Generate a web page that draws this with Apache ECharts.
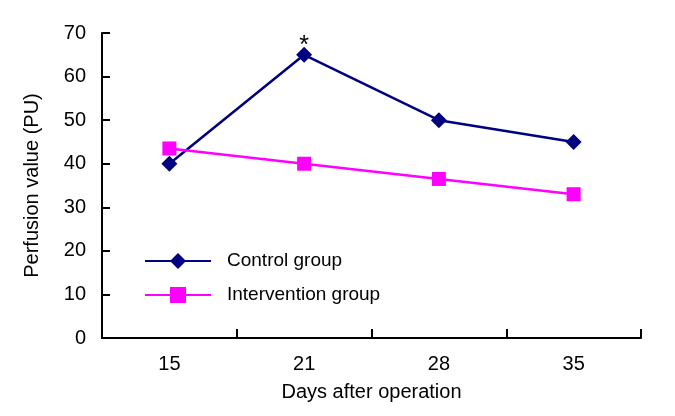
<!DOCTYPE html>
<html>
<head>
<meta charset="utf-8">
<script src="https://cdn.jsdelivr.net/npm/echarts@6/dist/echarts.min.js"></script>
<style>html,body{margin:0;padding:0;background:#fff;}#c{width:675px;height:416px;}</style>
</head>
<body>
<div id="c"></div>
<script>
var categories = ['15', '21', '28', '35'];
var controlValues = [40, 65, 50, 45];
var interventionValues = [43.5, 40, 36.5, 33];
var yTicks = [0, 10, 20, 30, 40, 50, 60, 70];
var seriesNames = ['Control group', 'Intervention group'];
var markedIndex = 1;

var FONT = 'Liberation Sans, Arial, sans-serif';
var chart = echarts.init(document.getElementById('c'), null, {renderer: 'canvas'});
var axisLine = {show: true, lineStyle: {color: '#000', width: 2}};
chart.setOption({
  animation: false,
  backgroundColor: '#fff',
  grid: {left: 102, right: 34, top: 33, bottom: 78},
  legend: {
    left: 139, top: 246, orient: 'vertical', itemWidth: 66, itemHeight: 20, itemGap: 14,
    textStyle: {fontFamily: FONT, fontSize: 19, color: '#000', lineHeight: 20, padding: [0,0,0,11]},
    data: seriesNames
  },
  xAxis: {
    type: 'category', data: categories, boundaryGap: true,
    name: 'Days after operation', nameLocation: 'middle', nameGap: 44,
    nameTextStyle: {fontFamily: FONT, fontSize: 20, color: '#000'},
    axisLine: axisLine,
    axisTick: {show: true, inside: true, length: 9, lineStyle: {color: '#000', width: 2}, alignWithLabel: false},
    axisLabel: {fontFamily: FONT, fontSize: 20, color: '#000', margin: 16},
    splitLine: {show: false}
  },
  yAxis: {
    type: 'value', min: yTicks[0], max: yTicks[yTicks.length - 1], interval: 10,
    name: 'Perfusion value (PU)', nameLocation: 'middle', nameGap: 60, nameRotate: 90,
    nameTextStyle: {fontFamily: FONT, fontSize: 20, color: '#000'},
    axisLine: axisLine,
    axisTick: {show: true, inside: true, length: 8, lineStyle: {color: '#000', width: 2}},
    axisLabel: {fontFamily: FONT, fontSize: 20, color: '#000', margin: 16},
    splitLine: {show: false}
  },
  series: [
    {
      name: seriesNames[0], type: 'line',
      data: controlValues.map(function (v, i) {
        return i === markedIndex ? {value: v, label: {show: true, formatter: '*', position: 'top', distance: 6, offset: [0, 18], fontFamily: FONT, fontSize: 25, color: '#000'}} : v;
      }),
      symbol: 'diamond', symbolSize: 16,
      lineStyle: {color: '#000080', width: 2.5},
      itemStyle: {color: '#000080'}
    },
    {
      name: seriesNames[1], type: 'line', data: interventionValues,
      symbol: 'rect', symbolSize: 14,
      lineStyle: {color: '#FF00FF', width: 2.5},
      itemStyle: {color: '#FF00FF'}
    }
  ]
});
</script>
</body>
</html>
